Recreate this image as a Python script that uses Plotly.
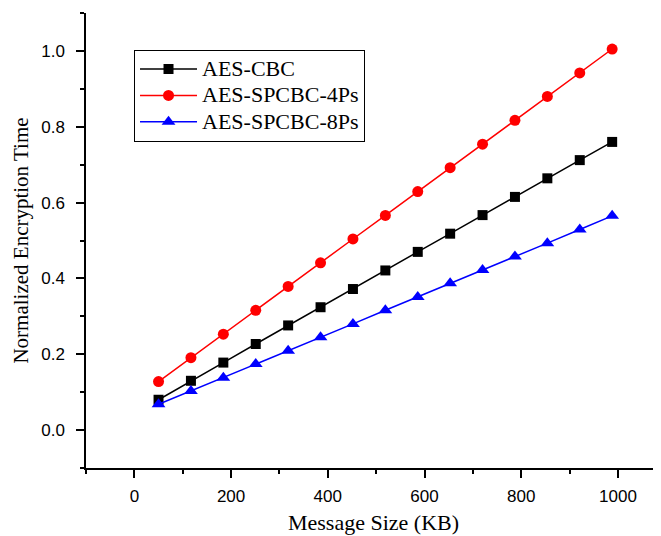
import plotly.graph_objects as go

msg_size = [50, 117, 184, 251, 318, 385, 452, 519, 586, 653, 720, 787, 854, 921, 988]
aes_cbc = [0.080, 0.130, 0.178, 0.227, 0.276, 0.324, 0.372, 0.421, 0.470, 0.518, 0.567, 0.615, 0.664, 0.712, 0.760]
aes_4ps = [0.128, 0.191, 0.253, 0.316, 0.379, 0.441, 0.504, 0.566, 0.629, 0.692, 0.754, 0.817, 0.880, 0.942, 1.005]
aes_8ps = [0.068, 0.103, 0.138, 0.174, 0.209, 0.245, 0.280, 0.316, 0.351, 0.387, 0.422, 0.458, 0.493, 0.529, 0.565]
series_names = ["AES-CBC", "AES-SPCBC-4Ps", "AES-SPCBC-8Ps"]


def legend_label(name):
    return "<span style='font-size:22px'>" + name + "</span>"


fig = go.Figure()
fig.add_trace(go.Scatter(x=msg_size, y=aes_cbc, name=legend_label(series_names[0]), mode="lines+markers",
                         line=dict(color="black", width=1.5),
                         marker=dict(symbol="square", size=10, color="black")))
fig.add_trace(go.Scatter(x=msg_size, y=aes_4ps, name=legend_label(series_names[1]), mode="lines+markers",
                         line=dict(color="#ff0000", width=1.5),
                         marker=dict(symbol="circle", size=11, color="#ff0000")))
fig.add_trace(go.Scatter(x=msg_size, y=aes_8ps, name=legend_label(series_names[2]), mode="lines+markers",
                         line=dict(color="#0000ff", width=1.5),
                         marker=dict(symbol="triangle-up", size=12, color="#0000ff")))

tickfont = dict(family="Liberation Sans, Arial", size=17, color="black")
xtitlefont = dict(family="Liberation Serif, Times New Roman", size=22, color="black")
ytitlefont = dict(family="Liberation Serif, Times New Roman", size=21, color="black")

fig.update_layout(
    width=653, height=528,
    margin=dict(l=78, r=0, t=5, b=68),
    paper_bgcolor="white", plot_bgcolor="white",
    showlegend=True,
    legend=dict(x=0.0835, y=0.919, xanchor="left", yanchor="top",
                bordercolor="black", borderwidth=1, bgcolor="white",
                font=dict(family="Liberation Serif, Times New Roman", size=18, color="black"),
                tracegroupgap=0, itemwidth=57),
    xaxis=dict(range=[-100, 1089], tickvals=[0, 200, 400, 600, 800, 1000],
               showgrid=False, zeroline=False, showline=True, linecolor="black", linewidth=1.5,
               ticks="outside", ticklen=8, tickwidth=1.5, tickcolor="black", tickfont=tickfont,
               ticklabelstandoff=4,
               minor=dict(dtick=100, tick0=0, ticks="outside", ticklen=4, tickwidth=1.5, tickcolor="black", showgrid=False),
               title=dict(text="Message Size (KB)", font=xtitlefont, standoff=9)),
    yaxis=dict(range=[-0.1, 1.1], tickvals=[0.0, 0.2, 0.4, 0.6, 0.8, 1.0], tickformat=".1f",
               showgrid=False, zeroline=False, showline=True, linecolor="black", linewidth=1.5,
               ticks="outside", ticklen=8, tickwidth=1.5, tickcolor="black", tickfont=tickfont,
               ticklabelstandoff=8,
               minor=dict(dtick=0.1, tick0=0, ticks="outside", ticklen=4, tickwidth=1.5, tickcolor="black", showgrid=False),
               title=dict(text="Normalized Encryption Time", font=ytitlefont, standoff=7)),
)

fig.write_html("out.html")
